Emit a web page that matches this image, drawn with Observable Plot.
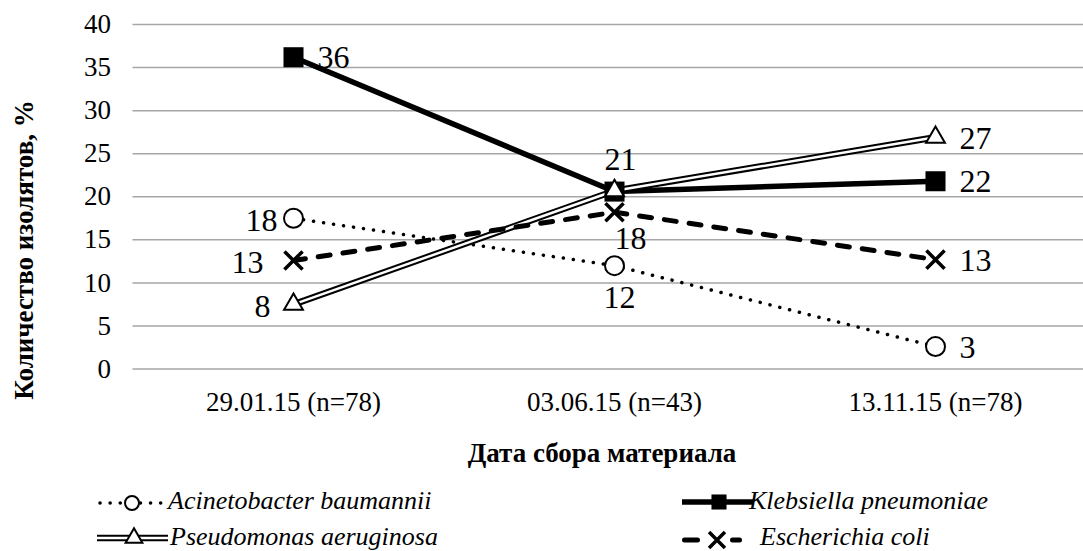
<!DOCTYPE html>
<html>
<head>
<meta charset="utf-8">
<script src="https://cdn.jsdelivr.net/npm/d3@7"></script>
<script src="https://cdn.jsdelivr.net/npm/@observablehq/plot@0.6"></script>
<style>
  body { margin: 0; background: #fff; }
  #chart { position: relative; width: 1083px; height: 551px; overflow: hidden; background: #fff; color: #000; }
  #chart > svg { display: block; }
</style>
</head>
<body>
<div id="chart"></div>
<script>
// Share of isolates (%) per collection date
const dates = ["29.01.15 (n=78)", "03.06.15 (n=43)", "13.11.15 (n=78)"];
const acinetobacter = [17.5, 12.0, 2.6];
const klebsiella = [36.2, 20.6, 21.8];
const pseudomonas = [7.5, 20.7, 26.9];
const ecoli = [12.6, 18.2, 12.7];
const yTicks = [0, 5, 10, 15, 20, 25, 30, 35, 40];

const yTitle = "Количество изолятов, %";
const xTitle = "Дата сбора материала";

const FONT = "Liberation Serif";

const series = [
  {key: "ab", name: "Acinetobacter baumannii", values: acinetobacter},
  {key: "kp", name: "Klebsiella pneumoniae", values: klebsiella},
  {key: "pa", name: "Pseudomonas aeruginosa", values: pseudomonas},
  {key: "ec", name: "Escherichia coli", values: ecoli}
];

// Line / marker appearance and where each point's value label sits
const look = {
  ab: {
    lines: [{stroke: "#000", strokeWidth: 3.5, strokeDasharray: "0.1 10", strokeLinecap: "round"}],
    symbol: "circle", r: 9.5, fill: "#fff", stroke: "#000", sw: 2,
    labels: ["left", "below", "right"], leftDx: -16, belowDx: 5, belowDy: 32
  },
  kp: {
    lines: [{stroke: "#000", strokeWidth: 5.5}],
    symbol: "square", r: 11.3, fill: "#000", stroke: "none", sw: 0,
    labels: ["right", null, "right"]
  },
  pa: {
    lines: [{stroke: "#000", strokeWidth: 6.5}, {stroke: "#fff", strokeWidth: 2.5}],
    symbol: "triangle", r: 7, fill: "#fff", stroke: "#000", sw: 2,
    labels: ["left", "above", "right"], leftDx: -23, aboveDx: 6, aboveDy: -31
  },
  ec: {
    lines: [{stroke: "#000", strokeWidth: 5, strokeDasharray: "12 13", strokeLinecap: "round"}],
    symbol: "times", r: 8.3, fill: "none", stroke: "#000", sw: 3.5,
    labels: ["left", "below", "right"], leftDx: -30, belowDx: 16, belowDy: 26
  }
};

const rows = series.flatMap(s => s.values.map((v, i) => ({
  key: s.key, date: dates[i], value: v, side: look[s.key].labels[i]
})));
const fmt = d3.format(".0f");
const of = k => rows.filter(d => d.key === k);

const tickFont = {fontFamily: FONT, fontSize: 27};
const marks = [
  Plot.gridY(yTicks, {stroke: "#a6a6a6", strokeOpacity: 1, strokeWidth: 1.5}),
  Plot.axisY(yTicks, {tickSize: 0, tickPadding: 22, label: null, ...tickFont}),
  Plot.axisX({tickSize: 0, tickPadding: 23, label: null, ...tickFont})
];

// lines
for (const s of series) {
  for (const ln of look[s.key].lines) {
    marks.push(Plot.line(of(s.key), {x: "date", y: "value", ...ln}));
  }
}
// markers
for (const k of ["kp", "ab", "ec", "pa"]) {
  const L = look[k];
  marks.push(Plot.dot(of(k), {
    x: "date", y: "value", symbol: L.symbol, r: L.r,
    fill: L.fill, stroke: L.stroke, strokeWidth: L.sw
  }));
}
// value labels
for (const s of series) {
  const L = look[s.key];
  const data = of(s.key);
  const base = {x: "date", y: "value", text: d => fmt(d.value), fontSize: 32, fontFamily: FONT};
  const r = data.filter(d => d.side === "right");
  const l = data.filter(d => d.side === "left");
  const a = data.filter(d => d.side === "above");
  const b = data.filter(d => d.side === "below");
  if (r.length) marks.push(Plot.text(r, {...base, textAnchor: "start", dx: 24, dy: 1}));
  if (l.length) marks.push(Plot.text(l, {...base, textAnchor: "end", dx: L.leftDx, dy: 2}));
  if (a.length) marks.push(Plot.text(a, {...base, textAnchor: "middle", dx: L.aboveDx, dy: L.aboveDy}));
  if (b.length) marks.push(Plot.text(b, {...base, textAnchor: "middle", dx: L.belowDx, dy: L.belowDy}));
}

const plot = Plot.plot({
  width: 1083,
  height: 425,
  marginTop: 24,
  marginBottom: 56.5,
  marginLeft: 132.5,
  marginRight: -12.5,
  style: {fontFamily: FONT, fontSize: "27px", color: "#000", background: "#fff", overflow: "hidden"},
  x: {type: "point", domain: dates, padding: 0.5},
  y: {domain: [0, 40]},
  marks
});

const chart = document.getElementById("chart");
chart.appendChild(plot);

// rotated y-axis title
const yt = document.createElement("div");
yt.style.position = "absolute";
yt.style.left = "24px";
yt.style.top = "250px";
yt.style.whiteSpace = "nowrap";
yt.style.transform = "translate(-50%, -50%) rotate(-90deg)";
yt.style.fontFamily = FONT;
yt.style.fontWeight = "bold";
yt.style.fontSize = "27px";
yt.style.lineHeight = "1";
yt.textContent = yTitle;
chart.appendChild(yt);

// x-axis title and legend below the plot
const footer = d3.create("svg")
  .attr("width", 1083).attr("height", 126)
  .attr("font-family", FONT)
  .style("display", "block");

footer.append("text")
  .attr("x", 602).attr("y", 37)
  .attr("text-anchor", "middle")
  .attr("font-family", FONT)
  .attr("font-weight", "bold").attr("font-size", 27)
  .text(xTitle);

const legendSlots = {
  ab: {x0: 100, x1: 163, cx: 132, cy: 78, tx: 168, ty: 84},
  pa: {x0: 97, x1: 168, cx: 134, cy: 113, tx: 170, ty: 120},
  kp: {x0: 682, x1: 753, cx: 719, cy: 77, tx: 749, ty: 84},
  ec: {x0: 682, x1: 742, cx: 717, cy: 115, tx: 760, ty: 120}
};

function applyLine(sel, ln) {
  sel.attr("stroke", ln.stroke || "#000").attr("stroke-width", ln.strokeWidth)
    .attr("fill", "none");
  if (ln.strokeDasharray) sel.attr("stroke-dasharray", ln.strokeDasharray);
  if (ln.strokeLinecap) sel.attr("stroke-linecap", ln.strokeLinecap);
}

for (const s of series) {
  const L = look[s.key], p = legendSlots[s.key];
  const g = footer.append("g");
  if (s.key === "ec") {
    // short dash on each side of the cross
    for (const [a, b] of [[p.x0 + 2.5, 697.5], [730 + 2.5, p.x1 - 2.5]]) {
      g.append("line").attr("x1", a).attr("x2", b).attr("y1", p.cy).attr("y2", p.cy)
        .attr("stroke", "#000").attr("stroke-width", 5).attr("stroke-linecap", "round");
    }
  } else {
    for (const ln of L.lines) {
      const el = g.append("line").attr("x1", p.x0).attr("x2", p.x1).attr("y1", p.cy).attr("y2", p.cy);
      applyLine(el, ln);
    }
  }
  const symType = {circle: d3.symbolCircle, square: d3.symbolSquare, triangle: d3.symbolTriangle, times: d3.symbolTimes}[L.symbol];
  const legendR = {ab: 7, kp: 8.5, pa: 6.2, ec: 7.3}[s.key];
  g.append("path")
    .attr("transform", `translate(${p.cx},${p.cy})`)
    .attr("d", d3.symbol(symType, Math.PI * legendR * legendR)())
    .attr("fill", L.fill).attr("stroke", L.stroke === "none" ? null : L.stroke)
    .attr("stroke-width", L.sw);
  footer.append("text")
    .attr("x", p.tx).attr("y", p.ty)
    .attr("font-family", FONT)
    .attr("font-style", "italic").attr("font-size", 26)
    .text(s.name);
}

chart.appendChild(footer.node());
</script>
</body>
</html>
